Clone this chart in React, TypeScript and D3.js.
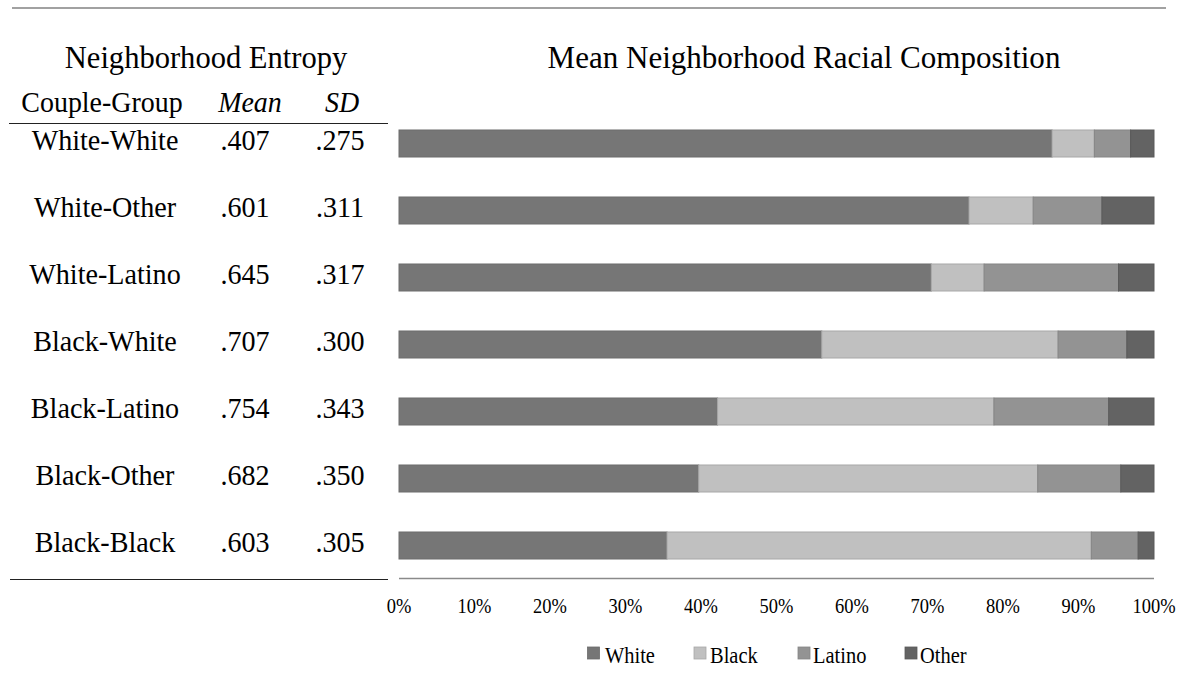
import React from "react";
import * as d3 from "d3";

const groups = ["White-White", "White-Other", "White-Latino", "Black-White", "Black-Latino", "Black-Other", "Black-Black"];
const means = [".407", ".601", ".645", ".707", ".754", ".682", ".603"];
const sds = [".275", ".311", ".317", ".300", ".343", ".350", ".305"];
const whiteShare = [86.5, 75.5, 70.5, 56.0, 42.2, 39.7, 35.5];
const blackShare = [5.6, 8.5, 7.0, 31.3, 36.6, 44.9, 56.2];
const latinoShare = [4.8, 9.1, 17.8, 9.1, 15.2, 11.0, 6.2];
const otherShare = [3.1, 6.9, 4.7, 3.6, 6.0, 4.4, 2.1];
const seriesKeys = ["White", "Black", "Latino", "Other"];
const tickValues = [0, 10, 20, 30, 40, 50, 60, 70, 80, 90, 100];

const colors: Record<string, string> = {
  White: "#767676",
  Black: "#c0c0c0",
  Latino: "#939393",
  Other: "#636363",
};
const strokes: Record<string, string> = {
  White: "#6c6c6c",
  Black: "#a8a8a8",
  Latino: "#858585",
  Other: "#5a5a5a",
};

const FONT = "'Liberation Serif', 'Times New Roman', serif";

function T(props: {
  x: number;
  y: number;
  size: number;
  sx?: number;
  anchor?: "start" | "middle" | "end";
  italic?: boolean;
  children: React.ReactNode;
}) {
  const { x, y, size, sx = 1, anchor = "middle", italic, children } = props;
  return (
    <text
      transform={`translate(${x},${y}) scale(${sx},1)`}
      textAnchor={anchor}
      fontSize={size}
      fontStyle={italic ? "italic" : "normal"}
      fill="#000"
    >
      {children}
    </text>
  );
}

export default function App() {
  const W = 1182, H = 681;
  const x = d3.scaleLinear().domain([0, 100]).range([399, 1154]);
  const y = d3
    .scaleBand<string>()
    .domain(groups)
    .range([110, 579])
    .paddingInner(0.597)
    .paddingOuter(0.2985);

  const rows = groups.map((g, i) => ({
    group: g,
    White: whiteShare[i],
    Black: blackShare[i],
    Latino: latinoShare[i],
    Other: otherShare[i],
  }));
  const stacked = d3.stack<any>().keys(seriesKeys)(rows);

  const legendItems = [
    { key: "White", sx: 587.5, tx: 605 },
    { key: "Black", sx: 694, tx: 710 },
    { key: "Latino", sx: 798, tx: 813 },
    { key: "Other", sx: 905, tx: 920 },
  ];

  return (
    <svg
      width={W}
      height={H}
      style={{ position: "absolute", left: 0, top: 0, background: "#fff" }}
      fontFamily={FONT}
    >
      {/* top rule */}
      <line x1={12} x2={1166} y1={8} y2={8} stroke="#444" strokeWidth={1.2} />

      {/* table title */}
      <T x={206} y={68} size={31.5} sx={0.97}>Neighborhood Entropy</T>
      <T x={102} y={112} size={28.5} sx={0.98}>Couple-Group</T>
      <T x={250} y={112} size={28.5} sx={0.98} italic>Mean</T>
      <T x={342} y={112} size={28.5} sx={0.98} italic>SD</T>
      <line x1={9} x2={388} y1={123.5} y2={123.5} stroke="#222" strokeWidth={1.2} />
      <line x1={10} x2={388} y1={579.5} y2={579.5} stroke="#222" strokeWidth={1.2} />

      {groups.map((g, i) => {
        const cy = (y(g) as number) + y.bandwidth() / 2 + 6;
        return (
          <g key={g}>
            <T x={105} y={cy} size={29} sx={0.97}>{g}</T>
            <T x={245} y={cy} size={29} sx={0.97}>{means[i]}</T>
            <T x={340} y={cy} size={29} sx={0.97}>{sds[i]}</T>
          </g>
        );
      })}

      {/* chart title */}
      <T x={804} y={68} size={32} sx={0.97}>Mean Neighborhood Racial Composition</T>

      {/* bars */}
      {stacked.map((layer) => (
        <g key={layer.key}>
          {layer.map((d, i) => (
            <rect
              key={i}
              x={x(d[0])}
              y={y(groups[i]) as number}
              width={x(d[1]) - x(d[0])}
              height={y.bandwidth()}
              fill={colors[layer.key]}
              stroke={strokes[layer.key]}
              strokeWidth={1}
            />
          ))}
        </g>
      ))}

      {/* axis line */}
      <line x1={x(0)} x2={x(100)} y1={578.5} y2={578.5} stroke="#8a8a8a" strokeWidth={1.5} />

      {/* tick labels */}
      {tickValues.map((t) => (
        <T key={t} x={x(t)} y={613} size={20.5} sx={0.9}>{t + "%"}</T>
      ))}

      {/* legend */}
      {legendItems.map((it) => (
        <g key={it.key}>
          <rect x={it.sx} y={647} width={12} height={12} fill={colors[it.key]} stroke={strokes[it.key]} strokeWidth={0.8} />
          <T x={it.tx} y={663} size={23.5} sx={0.87} anchor="start">{it.key}</T>
        </g>
      ))}
    </svg>
  );
}
